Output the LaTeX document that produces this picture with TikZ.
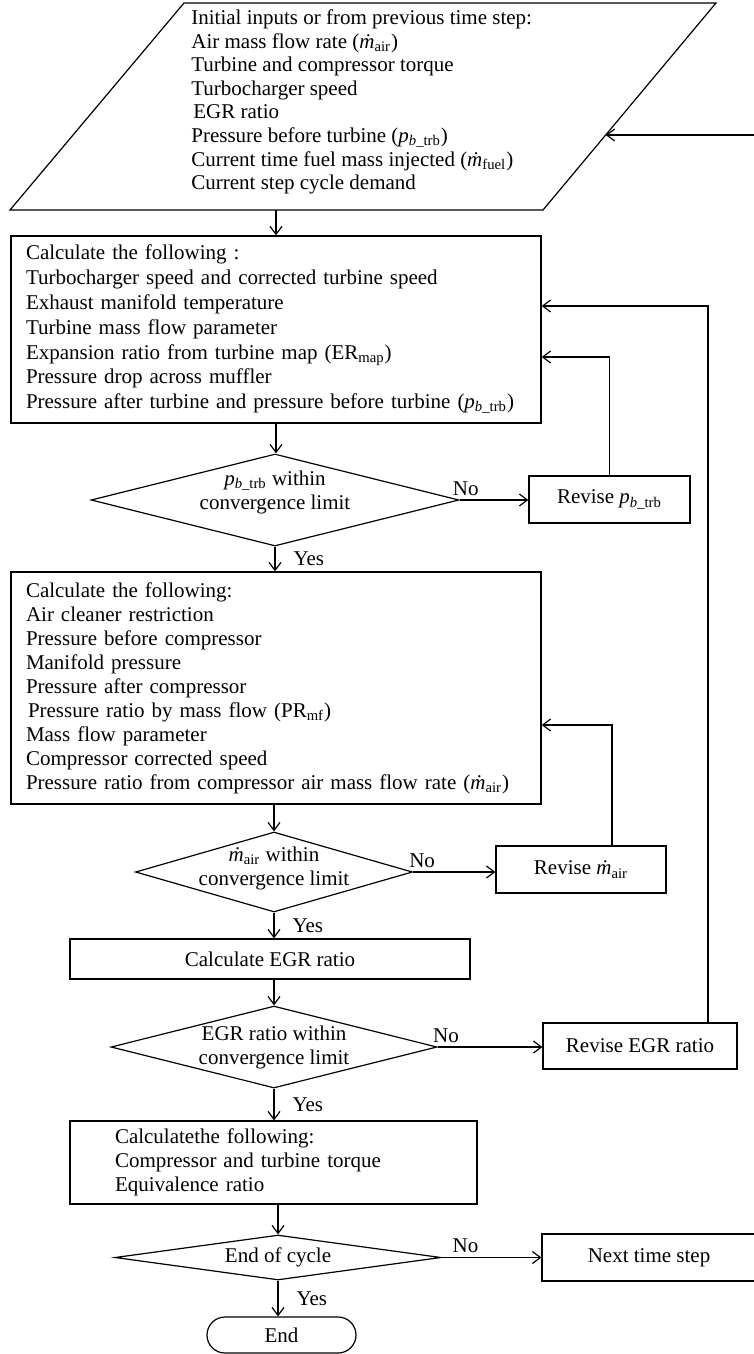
\documentclass[tikz,border=0pt]{standalone}
\usepackage{fontspec}
\setmainfont{Liberation Serif}
\usetikzlibrary{arrows.meta,shapes.geometric}

\newcommand{\mair}{\textit{\.m}\textsubscript{air}}
\newcommand{\mfuel}{\textit{\.m}\textsubscript{fuel}}
\newcommand{\pbtrb}{\textit{p}\textsubscript{\textit{b}\_trb}}

\begin{document}
\begin{tikzpicture}[x=0.5pt,y=-0.5pt,
	every node/.style={font=\fontsize{10.5}{12}\selectfont},
	box/.style={draw,line width=0.6pt,rectangle,inner sep=0pt},
	listbox/.style={box,align=left,inner xsep=7.5pt},
	decision/.style={draw,line width=0.6pt,diamond,inner sep=0pt},
	flow/.style={line width=0.6pt,-{Straight Barb[length=4pt,width=6pt]}},
	nolab/.style={above,inner sep=2pt},
	yeslab/.style={anchor=west,inner sep=0pt,xshift=9pt}]
		\useasboundingbox (0,0) rectangle (754,1354);
		\clip (0,0) rectangle (754,1354);
		
		% input parallelogram
		\coordinate (pl1) at (10,210);
		\coordinate (pl2) at (543,210);
		\coordinate (pl3) at (716,3);
		\coordinate (pl4) at (184,3);
		\draw[line width=0.6pt] (pl1) -- (pl2) -- (pl3) -- (pl4) -- cycle;
		\node[anchor=west,align=left,inner sep=0pt,font=\fontsize{10.5}{11.8}\selectfont] (inputs) at (191,102) {Initial inputs or from previous time step:\\
			Air mass flow rate (\mair)\\
			Turbine and compressor torque\\
			Turbocharger speed\\
			\hspace*{1pt}EGR ratio\\
			Pressure before turbine (\pbtrb)\\
			Current time fuel mass injected (\mfuel)\\
			Current step cycle demand};
		\coordinate (pbot) at (276,210);
		\coordinate (pin) at (605.7,135);
		
		% main column
		\node[listbox,text width=250pt,minimum height=93.5pt,font=\fontsize{10.5}{12.4}\selectfont] (calc1) at (276,329.5) {Calculate the following :\\
			Turbocharger speed and corrected turbine speed\\
			Exhaust manifold temperature\\
			Turbine mass flow parameter\\
			Expansion ratio from turbine map (ER\textsubscript{map})\\
			Pressure drop across muffler\\
			Pressure after turbine and pressure before turbine (\pbtrb)};
		\node[decision,minimum width=184pt,minimum height=46pt,
			label={[align=center,yshift=4pt]center:\pbtrb{} within\\convergence limit}] (conv1) at (275,500) {};
		\node[listbox,text width=250pt,minimum height=116pt] (calc2) at (276,688) {Calculate the following:\\
			Air cleaner restriction\\
			Pressure before compressor\\
			Manifold pressure\\
			Pressure after compressor\\
			\hspace*{1pt}Pressure ratio by mass flow (PR\textsubscript{mf})\\
			Mass flow parameter\\
			Compressor corrected speed\\
			Pressure ratio from compressor air mass flow rate (\mair)};
		\node[decision,minimum width=138.5pt,minimum height=40pt,
			label={[align=center,yshift=2pt]center:\mair{} within\\convergence limit}] (conv2) at (274,872) {};
		\node[box,minimum width=200pt,minimum height=20pt] (egr) at (270,959) {Calculate EGR ratio};
		\node[decision,minimum width=163pt,minimum height=41pt,
			label={[align=center]center:EGR ratio within\\convergence limit}] (conv3) at (274,1047) {};
		\node[listbox,inner xsep=22.5pt,text width=158.5pt,minimum height=41.5pt] (calc3) at (273.5,1162.5) {Calculatethe following:\\
			Compressor and turbine torque\\
			Equivalence ratio};
		\node[decision,minimum width=163pt,minimum height=22.5pt,
			label={center:End of cycle}] (cyc) at (278,1257.5) {};
		\node[box,rounded corners=9pt,minimum width=74.5pt,minimum height=18pt] (stop) at (281.5,1335) {End};
		
		% side column
		\node[box,minimum width=80.5pt,minimum height=23.5pt] (revp) at (609.5,499.5) {Revise \pbtrb};
		\node[box,minimum width=85pt,minimum height=23.5pt] (revm) at (581,869.5) {Revise \mair};
		\node[box,minimum width=97pt,minimum height=23pt] (reve) at (640,1046) {Revise EGR ratio};
		\node[box,minimum width=107pt,minimum height=23.5pt] (next) at (649,1257.5) {Next time step};
		
		% connectors
		\draw[flow] (pbot) -- (pbot |- calc1.north);
		\draw[flow] (calc1.south) -- (calc1.south |- conv1.north);
		\draw[flow] (conv1.east) -- (conv1.east -| revp.west) node[nolab,pos=0.09]{No};
		\draw[flow] (revp.north) |- ([yshift=-13.75pt]calc1.east);
		\draw[flow] (conv1.south) -- (conv1.south |- calc2.north) node[yeslab,midway]{Yes};
		\draw[flow] (calc2.south -| conv2.north) -- (conv2.north);
		\draw[flow] (conv2.east) -- (conv2.east -| revm.west) node[nolab,pos=0.11]{No};
		\draw[flow] ([xshift=15.5pt]revm.north) |- ([yshift=-18.5pt]calc2.east);
		\draw[flow] (conv2.south) -- (conv2.south |- egr.north) node[yeslab,midway]{Yes};
		\draw[flow] (egr.south -| conv3.north) -- (conv3.north);
		\draw[flow] (conv3.east) -- (conv3.east -| reve.west) node[nolab,pos=0.08]{No};
		\draw[flow] ([xshift=34pt]reve.north) |- ([yshift=11.75pt]calc1.east);
		\draw[flow] (conv3.south) -- (conv3.south |- calc3.north) node[yeslab,midway]{Yes};
		\draw[flow] (calc3.south -| cyc.north) -- (cyc.north);
		\draw[flow] (cyc.east) -- (cyc.east -| next.west) node[nolab,pos=0.24]{No};
		\draw[flow] (cyc.south) -- (cyc.south |- stop.north) node[yeslab,midway]{Yes};
		\draw[flow] (next.east) -- ++(6pt,0) |- (pin);
	\end{tikzpicture}
\end{document}
